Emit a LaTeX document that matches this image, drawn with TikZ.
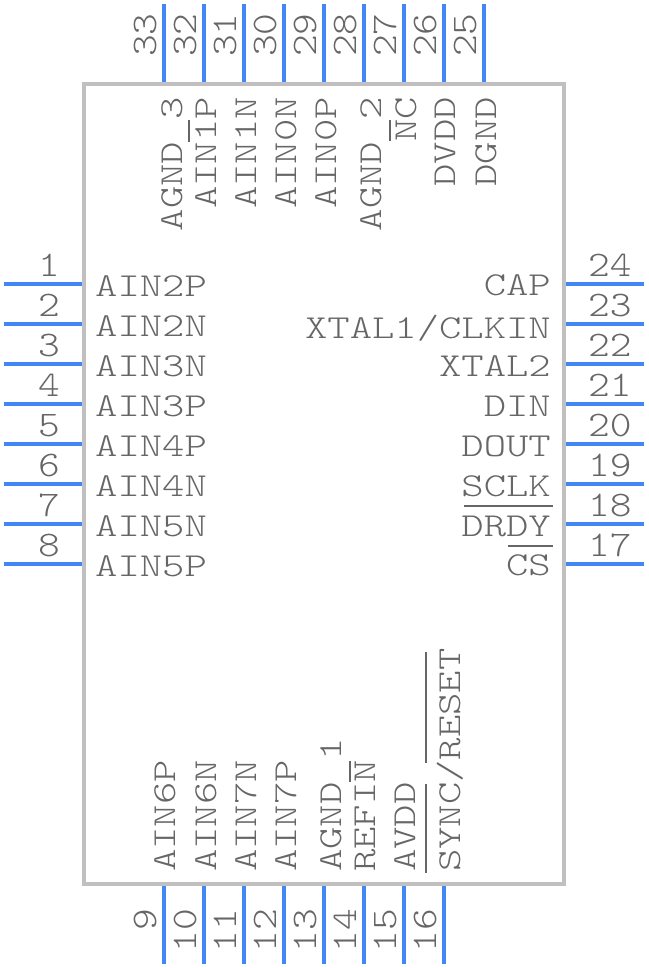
\documentclass[tikz,border=0pt]{standalone}
\usepackage{fontspec}
\usepackage{xcolor}
\usepackage{tikz}
\usetikzlibrary{calc}
\newfontfamily\pinfont[FakeStretch=1.27]{Latin Modern Mono Light}
\newfontfamily\numfont[FakeStretch=1.15]{Latin Modern Mono Light}
\definecolor{pinblue}{RGB}{66,135,245}
\definecolor{bodygray}{RGB}{192,192,192}
\definecolor{textgray}{RGB}{102,102,102}

\begin{document}
\begin{tikzpicture}[x=1pt, y=-1pt]

  % ===== Styles =====
  \tikzset{
    chipbody/.style={draw=bodygray, line width=4pt, minimum width=480pt, minimum height=800pt, inner sep=0pt},
    pinline/.style={draw=pinblue, line width=3.4pt},
    barline/.style={draw=textgray, line width=2pt},
    txt/.style={text=textgray, inner sep=0pt},
    pintxt/.style={txt, font=\fontsize{33.5}{33.5}\pinfont},
    numtxt/.style={txt, font=\fontsize{36}{36}\numfont},
    labelleft/.style={pintxt, anchor=base west},
    labelright/.style={pintxt, anchor=base east},
    labeltop/.style={pintxt, rotate=90, anchor=base east},
    labelbottom/.style={pintxt, rotate=90, anchor=base west},
    numleft/.style={numtxt, anchor=base east},
    numright/.style={numtxt, anchor=base west},
    numtop/.style={numtxt, rotate=90, anchor=base west},
    numbottom/.style={numtxt, rotate=90, anchor=base east}
  }

  \useasboundingbox (0,0) rectangle (648,968);

  % ===== Package outline =====
  \node[chipbody] (Chip) at (324,484) {};

  % ===== Left side =====
  \coordinate (E1) at (4,284); \draw[pinline] (E1) -- (E1 -| Chip.west);
  \coordinate (E2) at (4,324); \draw[pinline] (E2) -- (E2 -| Chip.west);
  \coordinate (E3) at (4,364); \draw[pinline] (E3) -- (E3 -| Chip.west);
  \coordinate (E4) at (4,404); \draw[pinline] (E4) -- (E4 -| Chip.west);
  \coordinate (E5) at (4,444); \draw[pinline] (E5) -- (E5 -| Chip.west);
  \coordinate (E6) at (4,484); \draw[pinline] (E6) -- (E6 -| Chip.west);
  \coordinate (E7) at (4,524); \draw[pinline] (E7) -- (E7 -| Chip.west);
  \coordinate (E8) at (4,564); \draw[pinline] (E8) -- (E8 -| Chip.west);

  \node[numleft] (N1) at (60,276) {1};
  \node[numleft] (N2) at (60,316) {2};
  \node[numleft] (N3) at (60,356) {3};
  \node[numleft] (N4) at (60,396) {4};
  \node[numleft] (N5) at (60,436) {5};
  \node[numleft] (N6) at (60,476) {6};
  \node[numleft] (N7) at (60,516) {7};
  \node[numleft] (N8) at (60,556) {8};

  \node[labelleft] (T1) at (95,296) {AIN2P};
  \node[labelleft] (T2) at (95,336) {AIN2N};
  \node[labelleft] (T3) at (95,376) {AIN3N};
  \node[labelleft] (T4) at (95,416) {AIN3P};
  \node[labelleft] (T5) at (95,456) {AIN4P};
  \node[labelleft] (T6) at (95,496) {AIN4N};
  \node[labelleft] (T7) at (95,536) {AIN5N};
  \node[labelleft] (T8) at (95,576) {AIN5P};

  % ===== Bottom side =====
  \coordinate (E9)  at (164,964); \draw[pinline] (E9)  -- (E9  |- Chip.south);
  \coordinate (E10) at (204,964); \draw[pinline] (E10) -- (E10 |- Chip.south);
  \coordinate (E11) at (244,964); \draw[pinline] (E11) -- (E11 |- Chip.south);
  \coordinate (E12) at (284,964); \draw[pinline] (E12) -- (E12 |- Chip.south);
  \coordinate (E13) at (324,964); \draw[pinline] (E13) -- (E13 |- Chip.south);
  \coordinate (E14) at (364,964); \draw[pinline] (E14) -- (E14 |- Chip.south);
  \coordinate (E15) at (404,964); \draw[pinline] (E15) -- (E15 |- Chip.south);
  \coordinate (E16) at (444,964); \draw[pinline] (E16) -- (E16 |- Chip.south);

  \node[numbottom] (N9)  at (156,909) {9};
  \node[numbottom] (N10) at (196,909) {10};
  \node[numbottom] (N11) at (236,909) {11};
  \node[numbottom] (N12) at (276,909) {12};
  \node[numbottom] (N13) at (316,909) {13};
  \node[numbottom] (N14) at (356,909) {14};
  \node[numbottom] (N15) at (396,909) {15};
  \node[numbottom] (N16) at (436,909) {16};

  \node[labelbottom] (T9)  at (175,872) {AIN6P};
  \node[labelbottom] (T10) at (216,872) {AIN6N};
  \node[labelbottom] (T11) at (256,872) {AIN7N};
  \node[labelbottom] (T12) at (296,872) {AIN7P};
  \node[labelbottom] (T13) at (341,872) {AGND 1};
  \node[labelbottom] (T14) at (375,872) {REFIN};
  \node[labelbottom] (T15) at (415,872) {AVDD};
  \node[labelbottom] (T16) at (460,872) {SYNC/RESET};

  \draw[barline] (350,761) -- (350,782);
  \draw[barline] (426,652) -- (426,763);
  \draw[barline] (426,784) -- (426,873);

  % ===== Right side =====
  \coordinate (E17) at (644,564); \draw[pinline] (E17) -- (E17 -| Chip.east);
  \coordinate (E18) at (644,524); \draw[pinline] (E18) -- (E18 -| Chip.east);
  \coordinate (E19) at (644,484); \draw[pinline] (E19) -- (E19 -| Chip.east);
  \coordinate (E20) at (644,444); \draw[pinline] (E20) -- (E20 -| Chip.east);
  \coordinate (E21) at (644,404); \draw[pinline] (E21) -- (E21 -| Chip.east);
  \coordinate (E22) at (644,364); \draw[pinline] (E22) -- (E22 -| Chip.east);
  \coordinate (E23) at (644,324); \draw[pinline] (E23) -- (E23 -| Chip.east);
  \coordinate (E24) at (644,284); \draw[pinline] (E24) -- (E24 -| Chip.east);

  \node[numright] (N17) at (588,556) {17};
  \node[numright] (N18) at (588,516) {18};
  \node[numright] (N19) at (588,476) {19};
  \node[numright] (N20) at (588,436) {20};
  \node[numright] (N21) at (588,396) {21};
  \node[numright] (N22) at (588,356) {22};
  \node[numright] (N23) at (588,316) {23};
  \node[numright] (N24) at (588,276) {24};

  \node[labelright] (T17) at (551,575) {CS};
  \node[labelright] (T18) at (551,536) {DRDY};
  \node[labelright] (T19) at (551,496) {SCLK};
  \node[labelright] (T20) at (551,456) {DOUT};
  \node[labelright] (T21) at (551,416) {DIN};
  \node[labelright] (T22) at (551,376) {XTAL2};
  \node[labelright] (T23) at (551,338) {XTAL1/CLKIN};
  \node[labelright] (T24) at (551,295) {CAP};

  \draw[barline] (508,546) -- (553,546);
  \draw[barline] (464,506) -- (553,506);

  % ===== Top side =====
  \coordinate (E25) at (484,4); \draw[pinline] (E25) -- (E25 |- Chip.north);
  \coordinate (E26) at (444,4); \draw[pinline] (E26) -- (E26 |- Chip.north);
  \coordinate (E27) at (404,4); \draw[pinline] (E27) -- (E27 |- Chip.north);
  \coordinate (E28) at (364,4); \draw[pinline] (E28) -- (E28 |- Chip.north);
  \coordinate (E29) at (324,4); \draw[pinline] (E29) -- (E29 |- Chip.north);
  \coordinate (E30) at (284,4); \draw[pinline] (E30) -- (E30 |- Chip.north);
  \coordinate (E31) at (244,4); \draw[pinline] (E31) -- (E31 |- Chip.north);
  \coordinate (E32) at (204,4); \draw[pinline] (E32) -- (E32 |- Chip.north);
  \coordinate (E33) at (164,4); \draw[pinline] (E33) -- (E33 |- Chip.north);

  \node[numtop] (N25) at (476,57) {25};
  \node[numtop] (N26) at (436,57) {26};
  \node[numtop] (N27) at (396,57) {27};
  \node[numtop] (N28) at (356,57) {28};
  \node[numtop] (N29) at (316,57) {29};
  \node[numtop] (N30) at (276,57) {30};
  \node[numtop] (N31) at (236,57) {31};
  \node[numtop] (N32) at (196,57) {32};
  \node[numtop] (N33) at (156,57) {33};

  \node[labeltop] (T25) at (496,97) {DGND};
  \node[labeltop] (T26) at (455,97) {DVDD};
  \node[labeltop] (T27) at (416,97) {NC};
  \node[labeltop] (T28) at (381,97) {AGND 2};
  \node[labeltop] (T29) at (336,97) {AIN0P};
  \node[labeltop] (T30) at (296,97) {AIN0N};
  \node[labeltop] (T31) at (256,97) {AIN1N};
  \node[labeltop] (T32) at (216,97) {AIN1P};
  \node[labeltop] (T33) at (182,97) {AGND 3};

  \draw[barline] (390,120) -- (390,141);
  \draw[barline] (189,120) -- (189,142);

\end{tikzpicture}
\end{document}
